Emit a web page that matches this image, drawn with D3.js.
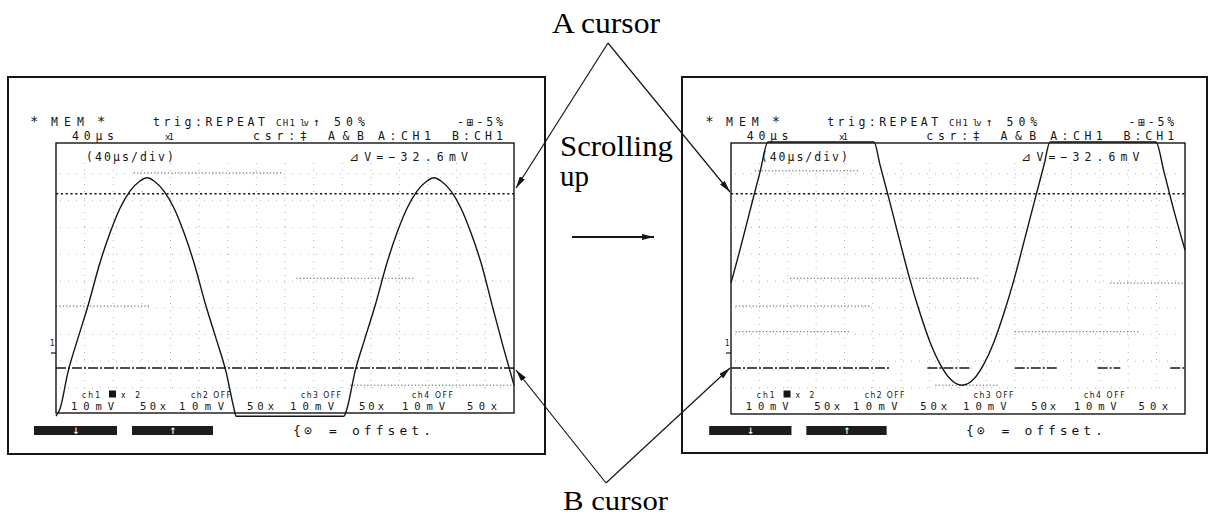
<!DOCTYPE html>
<html><head><meta charset="utf-8">
<script src="https://cdn.jsdelivr.net/npm/d3@7"></script>
<style>html,body{margin:0;padding:0;background:#fff;} svg{display:block;}</style>
</head><body><svg id="c" width="1212" height="517"></svg>
<script>
// ================= DATA =================
const timeDomain = [0, 400];           // µs across the screen (40 µs/div)
const voltDomain = [-24.7, 25.8];      // mV, bottom -> top of the screen
const cursorA = 16.3;                  // mV
const cursorB = -16.3;                 // mV

// left screen: waveform before scrolling (bottom clipped)
const leftT = [0, 3.5, 10.5, 19.2, 27.9, 38.4, 47.2, 55.9, 64.6, 73.4, 79.5, 85.6, 94.3, 103.1, 111.8, 120.5, 131.0, 139.7, 148.5, 155.5, 157.2,
               251.5, 254.1, 261.1, 269.9, 278.6, 289.1, 297.8, 306.6, 315.3, 324.0, 330.1, 336.2, 345.0, 353.7, 362.4, 371.2, 381.7, 390.4, 400];
const leftV = [-25.3, -23.9, -17.0, -10.7, -4.7, 3.4, 9.0, 13.6, 16.8, 18.7, 19.3, 18.7, 16.8, 13.6, 9.0, 3.4, -4.7, -10.7, -17.0, -23.9, -25.3,
               -25.3, -23.9, -17.0, -10.7, -4.7, 3.4, 9.0, 13.6, 16.8, 18.7, 19.3, 18.7, 16.8, 13.6, 9.0, 3.4, -5.2, -12.2, -19.5];

// right screen: waveform after scrolling up (top clipped)
const rightT = [0, 7.9, 16.7, 25.6, 32.6, 126.0, 131.3, 140.1, 148.9, 157.7, 166.5, 175.3, 184.1, 193.0, 203.5, 214.1, 222.9, 231.7, 240.5, 249.3,
                258.1, 267.0, 275.8, 281.1, 374.4, 381.5, 390.3, 400];
const rightV = [-0.4, 5.8, 13.1, 20.4, 26.0, 26.0, 21.7, 14.6, 7.3, 0.2, -6.0, -11.4, -15.5, -18.3, -19.5, -18.3, -15.5, -11.4, -6.0, 0.2,
                7.3, 14.6, 21.7, 26.0, 26.0, 20.4, 13.1, 5.8];

// extra dotted trace segments visible on the screens: [t start, t end, mV]
const leftDots  = [[0, 82, -4.7], [210, 312, 0.5], [257, 400, -19.5], [68, 197, 20.2]];
const rightDots = [[21, 114, 20.6], [52, 219, 0.5], [4, 122, -4.7], [4, 105, -9.5], [250, 360, -9.5], [334, 400, -0.4], [180, 237, -19.5]];
// B cursor dashes on the right screen: [t start, t end]
const rightBSegs = [[0, 140], [173, 212], [250, 287], [323, 343], [387, 400]];

const header1 = ["*", "MEM", "*", "trig:REPEAT", "CH1", "lv", "\u2191", "50%", "-\u229E-5%"];
const header2 = ["40\u00B5s", "x1", "csr:\u2021", "A&B", "A:CH1", "B:CH1"];
const timeDivLabel = "(40\u00B5s/div)";
const chLabels = ["ch1", "x 2", "ch2 OFF", "ch3 OFF", "ch4 OFF"];
const rangeLabels = ["10mV", "50x", "10mV", "50x", "10mV", "50x", "10mV", "50x"];
const barGlyphs = ["\u2193", "\u2191"];
const offsetLabels = ["{\u2299", "=", "offset."];
const annotations = ["A cursor", "B cursor", "Scrolling", "up"];

// ================= LAYOUT =================
const panels = [
  {outer: [8, 77, 545, 454], screen: [56, 143, 514, 413], T: leftT, V: leftV, dots: leftDots, bSegs: [[0, 400]]},
  {outer: [682, 77, 1207, 453], screen: [731, 143, 1185, 414], T: rightT, V: rightV, dots: rightDots, bSegs: rightBSegs}
];
// text positions given in left-panel pixels, [x, textLength]
const h1Pos = [[30, 0], [51, 33], [97, 0], [153, 112], [276, 19], [300, 9], [313, 0], [334, 31], [457, 46]];
const h2Pos = [[72, 42], [165, 9], [253, 54], [328, 36], [378, 53], [452, 51]];
const chPos = [[82, 18], [121, 19], [191, 40], [301, 40], [412, 41]];
const rgPos = [[71, 43], [140, 26], [179, 45], [247, 27], [290, 44], [359, 25], [402, 43], [467, 30]];
const barPos = [[34, 117], [132, 213]];
const offPos = [[293, 19], [329, 0], [352, 79]];

const svg = d3.select("#c");
const MONO = "'DejaVu Sans Mono', 'Liberation Mono', monospace";
const SANS = "'DejaVu Sans Condensed', 'DejaVu Sans', sans-serif";
const SERIF = "'Liberation Serif', 'DejaVu Serif', serif";
const INK = "#151515";

const defs = svg.append("defs");
defs.append("marker").attr("id", "ah").attr("viewBox", "0 0 12 6")
  .attr("refX", 12).attr("refY", 3).attr("markerWidth", 12).attr("markerHeight", 6)
  .attr("markerUnits", "userSpaceOnUse").attr("orient", "auto")
  .append("path").attr("d", "M0,0 L12,3 L0,6 Z").attr("fill", INK);

panels.forEach(p => {
  const [sx0, sy0, sx1, sy1] = p.screen;
  const mx = x => sx0 + (x - 56) * (sx1 - sx0) / 458;
  const xS = d3.scaleLinear().domain(timeDomain).range([sx0, sx1]);
  const yS = d3.scaleLinear().domain(voltDomain).range([413, 143]);
  const g = svg.append("g");

  // outer frame
  const [ox0, oy0, ox1, oy1] = p.outer;
  g.append("rect").attr("x", ox0).attr("y", oy0).attr("width", ox1 - ox0).attr("height", oy1 - oy0)
    .attr("fill", "none").attr("stroke", INK).attr("stroke-width", 2);

  // faint grid
  const grid = g.append("g").attr("stroke", "#8a8a8a").attr("stroke-width", 0.9).attr("opacity", 0.7);
  d3.range(25, 400, 25).forEach(t => grid.append("line")
    .attr("x1", xS(t)).attr("x2", xS(t)).attr("y1", sy0 + 20).attr("y2", sy1 - 24)
    .attr("stroke-dasharray", "1,6"));
  d3.range(-20, 25, 5).forEach(v => grid.append("line")
    .attr("x1", sx0 + 4).attr("x2", sx1 - 4).attr("y1", yS(v)).attr("y2", yS(v))
    .attr("stroke-dasharray", "1,7"));

  // dotted trace segments
  p.dots.forEach(d => g.append("line")
    .attr("x1", xS(d[0])).attr("x2", xS(d[1])).attr("y1", yS(d[2])).attr("y2", yS(d[2]))
    .attr("stroke", "#555").attr("stroke-width", 1).attr("stroke-dasharray", "1.2,2.2"));

  // screen frame
  g.append("rect").attr("x", sx0).attr("y", sy0).attr("width", sx1 - sx0).attr("height", sy1 - sy0)
    .attr("fill", "none").attr("stroke", INK).attr("stroke-width", 1.4);

  // cursors
  g.append("line").attr("x1", xS(0)).attr("x2", xS(400)).attr("y1", yS(cursorA)).attr("y2", yS(cursorA))
    .attr("stroke", INK).attr("stroke-width", 1.6).attr("stroke-dasharray", "2.2,2.6");
  p.bSegs.forEach(s => g.append("line").attr("x1", xS(s[0])).attr("x2", xS(s[1]))
    .attr("y1", yS(cursorB)).attr("y2", yS(cursorB))
    .attr("stroke", INK).attr("stroke-width", 1.5).attr("stroke-dasharray", "10,2,2,2"));

  // waveform
  const pts = p.T.map((t, i) => ({t, v: p.V[i]}));
  g.append("path").datum(pts)
    .attr("d", d3.line().x(d => xS(d.t)).y(d => yS(d.v)).curve(d3.curveMonotoneX))
    .attr("fill", "none").attr("stroke", INK).attr("stroke-width", 1.4);

  // text helper
  const txt = (x, y, s, len, size, fam, extra) => {
    const t = g.append("text").attr("x", x).attr("y", y).text(s)
      .attr("font-family", fam || MONO).attr("font-size", size).attr("fill", INK);
    if (len) t.attr("textLength", len).attr("lengthAdjust", "spacing");
    if (extra) extra(t);
    return t;
  };
  const k = (sx1 - sx0) / 458;
  header1.forEach((s, i) => {
    const small = (s === "CH1" || s === "lv");
    txt(mx(h1Pos[i][0]), 126, s, h1Pos[i][1] * k, s === "*" ? 14 : (small ? 9 : 11.5));
  });
  header2.forEach((s, i) => {
    txt(mx(h2Pos[i][0]), 139.5, s, h2Pos[i][1] * k, s === "x1" ? 9 : 11.5);
  });
  txt(mx(86), 161, timeDivLabel, 88 * k, 11.5);
  const dv = d3.format(".1f")(cursorB - cursorA);
  txt(mx(349), 161, "\u22BFV=" + dv + "mV", 119 * k, 11.5);

  // channel rows
  chLabels.forEach((s, i) => txt(mx(chPos[i][0]), 397.5, s, chPos[i][1] * k, 8.5, SANS));
  g.append("rect").attr("x", mx(109)).attr("y", 390.5).attr("width", 7).attr("height", 7).attr("fill", INK);
  rangeLabels.forEach((s, i) => txt(mx(rgPos[i][0]), 410, s, rgPos[i][1] * k, 10.5));

  // ground marker
  txt(mx(50), 346, "1", 0, 8, SANS);
  g.append("line").attr("x1", sx0 - 5).attr("x2", sx0).attr("y1", 353).attr("y2", 353)
    .attr("stroke", INK).attr("stroke-width", 1.2);

  // bars below screen
  barPos.forEach((b, i) => {
    g.append("rect").attr("x", mx(b[0])).attr("y", 426).attr("width", (b[1] - b[0]) * k).attr("height", 9)
      .attr("fill", "#1c1c1c");
    txt(mx((b[0] + b[1]) / 2) - 3, 434, barGlyphs[i], 0, 9, SANS, t => t.attr("fill", "#fff").attr("font-weight", "bold"));
  });
  offsetLabels.forEach((s, i) => txt(mx(offPos[i][0]), 435, s, offPos[i][1] * k, 13));
});

// ============ annotations ============
const ann = svg.append("g").attr("font-family", SERIF).attr("fill", "#000");
ann.append("text").attr("x", 552).attr("y", 33).attr("font-size", 30)
  .attr("textLength", 108).attr("lengthAdjust", "spacingAndGlyphs").text(annotations[0]);
ann.append("text").attr("x", 563).attr("y", 510).attr("font-size", 28)
  .attr("textLength", 105).attr("lengthAdjust", "spacingAndGlyphs").text(annotations[1]);
const sc = ann.append("text").attr("font-size", 29);
sc.append("tspan").attr("x", 560).attr("y", 156)
  .attr("textLength", 113).attr("lengthAdjust", "spacingAndGlyphs").text(annotations[2]);
sc.append("tspan").attr("x", 560).attr("y", 186).text(annotations[3]);

const arrow = (x1, y1, x2, y2, w) => svg.append("line")
  .attr("x1", x1).attr("y1", y1).attr("x2", x2).attr("y2", y2)
  .attr("stroke", INK).attr("stroke-width", w || 1.2).attr("marker-end", "url(#ah)");
arrow(608, 43, 516, 188);
arrow(608, 43, 730, 192);
arrow(606, 483, 516, 370);
arrow(606, 483, 730, 368);
arrow(572, 237, 654, 237, 1.8);
</script></body></html>
